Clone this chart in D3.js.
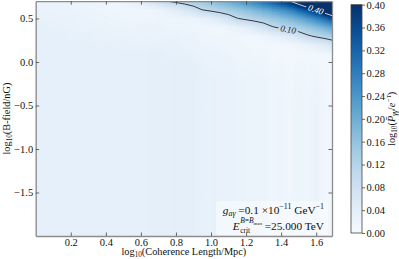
<!DOCTYPE html>
<html>
<head>
<meta charset="utf-8">
<script src="https://cdn.jsdelivr.net/npm/d3@7"></script>
<style>
  body { margin: 0; background: #fff; }
  svg { display: block; font-family: "Liberation Serif", "Times New Roman", serif; }
</style>
</head>
<body>
<div id="chart"></div>
<script>
// grid columns: log10(coherence length / Mpc)
var xs = [0.00, 0.05, 0.10, 0.15, 0.20, 0.25, 0.30, 0.35, 0.40, 0.45, 0.50, 0.55,
          0.60, 0.65, 0.70, 0.75, 0.80, 0.85, 0.90, 0.95, 1.00, 1.05, 1.10, 1.15,
          1.20, 1.25, 1.30, 1.35, 1.40, 1.45, 1.50, 1.55, 1.60, 1.65, 1.70];
// grid rows: log10(B-field / nG), top to bottom
var ys = [0.7, 0.6, 0.5, 0.4, 0.3, 0.2, 0.1, 0.0, -0.2, -0.5, -1.0, -1.5, -2.0];
// log10(P_gg / e^-tau), one row per ys value
var pgg = [
  [0.026,0.026,0.025,0.024,0.023, 0.022,0.021,0.020,0.019,0.018, 0.022,0.030,0.041,0.056,0.076, 0.101,0.111,0.123,0.136,0.149, 0.165,0.182,0.201,0.221,0.244, 0.269,0.297,0.327,0.361,0.398, 0.458,0.532,0.618,0.730,0.870],
  [0.028,0.027,0.027,0.026,0.025, 0.024,0.023,0.021,0.020,0.019, 0.018,0.018,0.019,0.019,0.022, 0.030,0.040,0.055,0.074,0.100, 0.111,0.122,0.134,0.148,0.164, 0.180,0.199,0.219,0.242,0.267, 0.304,0.348,0.400,0.467,0.550],
  [0.029,0.029,0.028,0.028,0.028, 0.026,0.025,0.024,0.023,0.022, 0.021,0.019,0.019,0.019,0.020, 0.020,0.021,0.020,0.021,0.029, 0.039,0.053,0.072,0.098,0.110, 0.121,0.133,0.147,0.162,0.179, 0.201,0.228,0.259,0.298,0.346],
  [0.033,0.033,0.032,0.030,0.029, 0.028,0.028,0.027,0.027,0.025, 0.024,0.023,0.024,0.025,0.026, 0.021,0.021,0.020,0.019,0.018, 0.017,0.016,0.021,0.028,0.038, 0.052,0.070,0.096,0.109,0.120, 0.133,0.149,0.168,0.190,0.218],
  [0.033,0.033,0.033,0.033,0.032, 0.032,0.031,0.029,0.028,0.028, 0.028,0.028,0.029,0.026,0.026, 0.025,0.027,0.025,0.025,0.018, 0.017,0.016,0.017,0.014,0.014, 0.015,0.020,0.027,0.037,0.051, 0.069,0.093,0.109,0.122,0.137],
  [0.033,0.033,0.033,0.033,0.033, 0.033,0.033,0.032,0.033,0.032, 0.031,0.029,0.029,0.030,0.031, 0.031,0.032,0.026,0.025,0.022, 0.022,0.020,0.021,0.018,0.014, 0.013,0.013,0.011,0.012,0.015, 0.020,0.027,0.036,0.049,0.067],
  [0.033,0.033,0.033,0.033,0.033, 0.033,0.033,0.033,0.033,0.033, 0.033,0.033,0.034,0.035,0.037, 0.031,0.032,0.031,0.030,0.027, 0.026,0.025,0.021,0.018,0.018, 0.016,0.017,0.013,0.013,0.011, 0.013,0.012,0.014,0.014,0.019],
  [0.033,0.033,0.033,0.033,0.033, 0.033,0.033,0.033,0.033,0.033, 0.033,0.033,0.034,0.035,0.037, 0.036,0.038,0.036,0.035,0.027, 0.026,0.025,0.026,0.022,0.021, 0.020,0.018,0.014,0.016,0.012, 0.016,0.014,0.015,0.011,0.012],
  [0.033,0.033,0.033,0.033,0.033, 0.033,0.033,0.033,0.033,0.033, 0.033,0.033,0.034,0.035,0.037, 0.036,0.038,0.036,0.035,0.032, 0.031,0.029,0.030,0.026,0.025, 0.023,0.024,0.018,0.019,0.014, 0.019,0.016,0.020,0.013,0.013],
  [0.033,0.033,0.033,0.033,0.033, 0.033,0.033,0.033,0.033,0.033, 0.033,0.033,0.034,0.035,0.037, 0.036,0.038,0.036,0.035,0.032, 0.031,0.029,0.030,0.026,0.025, 0.023,0.024,0.018,0.021,0.016, 0.022,0.019,0.023,0.015,0.016],
  [0.034,0.034,0.034,0.033,0.033, 0.033,0.033,0.033,0.033,0.033, 0.033,0.033,0.034,0.035,0.037, 0.036,0.038,0.036,0.035,0.032, 0.031,0.029,0.030,0.026,0.025, 0.023,0.024,0.018,0.021,0.016, 0.022,0.019,0.023,0.015,0.016],
  [0.034,0.034,0.034,0.034,0.033, 0.033,0.033,0.033,0.033,0.033, 0.033,0.033,0.034,0.035,0.037, 0.036,0.038,0.036,0.035,0.032, 0.031,0.029,0.030,0.026,0.025, 0.023,0.024,0.018,0.021,0.016, 0.022,0.019,0.023,0.015,0.016],
  [0.035,0.034,0.034,0.034,0.034, 0.033,0.033,0.033,0.033,0.033, 0.033,0.033,0.034,0.035,0.037, 0.036,0.038,0.036,0.035,0.032, 0.031,0.029,0.030,0.026,0.025, 0.023,0.024,0.018,0.021,0.016, 0.022,0.019,0.023,0.015,0.016]
];
var xTicks = [0.2, 0.4, 0.6, 0.8, 1.0, 1.2, 1.4, 1.6];
var yTicks = [-1.5, -1.0, -0.5, 0.0, 0.5];
var cbTicks = [0.00, 0.04, 0.08, 0.12, 0.16, 0.20, 0.24, 0.28, 0.32, 0.36, 0.40];
var lineLevels = [0.10, 0.40];

var W = 399, H = 259;
var plot = {left: 35.7, right: 332, top: 1.2, bottom: 236};
var serif = '"Liberation Serif", "Times New Roman", serif';

var x = d3.scaleLinear().domain([0, 1.69]).range([plot.left, plot.right]);
var y = d3.scaleLinear().domain([-2, 0.699]).range([plot.bottom, plot.top]);
var color = d3.scaleSequential(d3.interpolateBlues).domain([0, 0.4]).clamp(true);

var svg = d3.select('#chart').append('svg').attr('width', W).attr('height', H);
var defs = svg.append('defs');
defs.append('clipPath').attr('id', 'plotclip').append('rect')
    .attr('x', plot.left).attr('y', plot.top)
    .attr('width', plot.right - plot.left).attr('height', plot.bottom - plot.top);

// grid index -> data coordinate (cell values sit at index + 0.5)
var colPos = d3.scaleLinear().domain(xs.map(function (d, i) { return i + 0.5; })).range(xs);
var rowPos = d3.scaleLinear().domain(ys.map(function (d, i) { return i + 0.5; })).range(ys);
var path = d3.geoPath(d3.geoTransform({
    point: function (px, py) { this.stream.point(x(colPos(px)), y(rowPos(py))); }
}));

var values = [].concat.apply([], pgg);
var step = 0.0025;
var levels = d3.range(0, 0.4 + step / 2, step);
var bands = d3.contours().size([xs.length, ys.length]).thresholds(levels)(values);

var heat = svg.append('g').attr('clip-path', 'url(#plotclip)');
heat.selectAll('path.band').data(bands).enter().append('path')
    .attr('class', 'band')
    .attr('d', path)
    .attr('fill', function (d) { return color(Math.min(0.4, d.value + step / 2)); })
    .attr('stroke', function (d) { return color(Math.min(0.4, d.value + step / 2)); })
    .attr('stroke-width', 0.3);

// contour lines with gaps under their labels
var mask = defs.append('mask').attr('id', 'lblmask').attr('maskUnits', 'userSpaceOnUse')
    .attr('x', 0).attr('y', 0).attr('width', W).attr('height', H);
mask.append('rect').attr('width', W).attr('height', H).attr('fill', 'white');

var lineColor = {'0.1': '#262626', '0.4': '#e6edf5'};
var lineWrap = svg.append('g').attr('clip-path', 'url(#plotclip)');
var lineG = lineWrap.append('g').attr('mask', 'url(#lblmask)');
var lines = d3.contours().size([xs.length, ys.length]).thresholds(lineLevels)(values);
var lineNodes = {};
lineG.selectAll('path').data(lines).enter().append('path')
    .attr('d', path)
    .attr('fill', 'none')
    .attr('stroke', function (d) { return lineColor[String(d.value)]; })
    .attr('stroke-width', 0.9)
    .each(function (d) { lineNodes[String(d.value)] = this; });

var labelG = svg.append('g');
function labelContour(node, targetX, txt, fill) {
    var len = node.getTotalLength(), best = null;
    for (var s = 0; s < len; s += 0.5) {
        var p = node.getPointAtLength(s);
        if (p.x < plot.left + 4 || p.x > plot.right - 4 || p.y < plot.top + 2 || p.y > plot.bottom) continue;
        var dd = Math.abs(p.x - targetX);
        if (!best || dd < best.d) best = {d: dd, s: s, p: p};
    }
    var a = node.getPointAtLength(Math.max(0, best.s - 5)),
        b = node.getPointAtLength(Math.min(len, best.s + 5));
    var ang = Math.atan2(b.y - a.y, b.x - a.x) * 180 / Math.PI;
    if (ang > 90) ang -= 180;
    if (ang < -90) ang += 180;
    var tr = 'translate(' + best.p.x + ',' + best.p.y + ') rotate(' + ang + ')';
    var t = labelG.append('text').attr('transform', tr)
        .attr('text-anchor', 'middle').attr('dy', '0.33em')
        .style('font-size', '9px').style('font-style', 'italic')
        .attr('fill', fill).text(txt);
    var w = t.node().getComputedTextLength();
    mask.append('rect').attr('transform', tr)
        .attr('x', -w / 2 - 2).attr('y', -4).attr('width', w + 4).attr('height', 8)
        .attr('fill', 'black');
}
labelContour(lineNodes['0.1'], 288, '0.10', '#262626');
labelContour(lineNodes['0.4'], 316, '0.40', '#ffffff');

// annotation box
svg.append('rect').attr('x', 216).attr('y', 201).attr('width', 112).attr('height', 34)
    .attr('rx', 3).attr('fill', '#fff').attr('opacity', 0.45);

function rich(sel, parts, size) {
    var shift = 0;
    parts.forEach(function (p) {
        var s = p.sub ? size * 0.25 : p.sup ? -size * 0.38 : 0;
        var t = sel.append('tspan').attr('dy', (s - shift) + 'px').text(p.t);
        if (p.sub || p.sup) t.style('font-size', (size * 0.7) + 'px');
        if (p.it) t.style('font-style', 'italic');
        shift = s;
    });
}

var annSize = 11.3;
var ann1 = svg.append('text').attr('x', 324).attr('y', 213.5).attr('text-anchor', 'end')
    .style('font-size', annSize + 'px').attr('fill', '#111');
rich(ann1, [{t: 'g', it: true}, {t: 'aγ', sub: true, it: true}, {t: ' =0.1 ×10'},
            {t: '−11', sup: true}, {t: ' GeV'}, {t: '−1', sup: true}], annSize);

var ann2 = svg.append('text').attr('x', 324).attr('y', 229.5).attr('text-anchor', 'end')
    .style('font-size', annSize + 'px').attr('fill', '#111').text('=25.000 TeV');
var a2x = 324 - ann2.node().getComputedTextLength() - 2.5;
var supT = svg.append('text').attr('y', 223).style('font-size', '7.5px').attr('fill', '#111');
supT.append('tspan').style('font-style', 'italic').text('B');
supT.append('tspan').text('=');
supT.append('tspan').style('font-style', 'italic').text('B');
supT.append('tspan').attr('dy', '1.5px').style('font-size', '5px').text('max');
var subT = svg.append('text').attr('y', 232.5).style('font-size', '7.5px').attr('fill', '#111').text('crit');
var scriptW = Math.max(supT.node().getComputedTextLength(), subT.node().getComputedTextLength());
var eT = svg.append('text').attr('y', 229.5).style('font-size', annSize + 'px')
    .style('font-style', 'italic').attr('fill', '#111').text('E');
var eW = eT.node().getComputedTextLength();
var ex = a2x - scriptW - eW - 0.5;
eT.attr('x', ex);
supT.attr('x', ex + eW + 0.5);
subT.attr('x', ex + eW + 0.5);

// axes (ticks pointing inward on all four sides)
var fmt1 = d3.format('.1f');
function styleAxis(g) {
    g.style('font-family', serif).style('font-size', '10.5px');
    g.select('.domain').attr('stroke', '#8c8c8c').attr('stroke-width', 1.3);
    g.selectAll('.tick line').attr('stroke', '#444').attr('stroke-width', 0.8);
    g.selectAll('.tick text').attr('fill', '#111');
}
svg.append('g').attr('transform', 'translate(0,' + plot.bottom + ')')
    .call(d3.axisBottom(x).tickValues(xTicks).tickFormat(fmt1).tickSizeInner(-3.5).tickSizeOuter(0).tickPadding(2.5))
    .call(styleAxis);
svg.append('g').attr('transform', 'translate(0,' + plot.top + ')')
    .call(d3.axisTop(x).tickValues(xTicks).tickFormat(function () { return ''; }).tickSizeInner(-3.5).tickSizeOuter(0))
    .call(styleAxis);
svg.append('g').attr('transform', 'translate(' + plot.left + ',0)')
    .call(d3.axisLeft(y).tickValues(yTicks).tickFormat(fmt1).tickSizeInner(-3.5).tickSizeOuter(0).tickPadding(2.5))
    .call(styleAxis);
svg.append('g').attr('transform', 'translate(' + plot.right + ',0)')
    .call(d3.axisRight(y).tickValues(yTicks).tickFormat(function () { return ''; }).tickSizeInner(-3.5).tickSizeOuter(0))
    .call(styleAxis);

// axis labels
var labSize = 10.3;
var xl = svg.append('text').attr('x', (plot.left + plot.right) / 2).attr('y', 254.5)
    .attr('text-anchor', 'middle').style('font-size', labSize + 'px').attr('fill', '#111');
rich(xl, [{t: 'log'}, {t: '10', sub: true}, {t: '(Coherence Length/Mpc)'}], labSize);
var yl = svg.append('text').attr('transform', 'translate(9.5,' + (plot.top + plot.bottom) / 2 + ') rotate(-90)')
    .attr('text-anchor', 'middle').style('font-size', labSize + 'px').attr('fill', '#111');
rich(yl, [{t: 'log'}, {t: '10', sub: true}, {t: '(B-field/nG)'}], labSize);

// colorbar
var cbTop = 4.7, cbBot = 233, cbX = 351, cbW = 11;
var cbY = d3.scaleLinear().domain([0, 0.4]).range([cbBot, cbTop]);
var grad = defs.append('linearGradient').attr('id', 'cbgrad')
    .attr('x1', 0).attr('y1', 1).attr('x2', 0).attr('y2', 0);
d3.range(0, 1.0001, 0.05).forEach(function (t) {
    grad.append('stop').attr('offset', t).attr('stop-color', color(t * 0.4));
});
svg.append('rect').attr('x', cbX).attr('y', cbTop).attr('width', cbW).attr('height', cbBot - cbTop)
    .attr('fill', 'url(#cbgrad)').attr('stroke', '#444').attr('stroke-width', 0.8);
var gcb = svg.append('g').attr('transform', 'translate(' + (cbX + cbW) + ',0)')
    .call(d3.axisRight(cbY).tickValues(cbTicks).tickFormat(d3.format('.2f')).tickSize(3).tickPadding(1.5))
    .call(styleAxis);
gcb.select('.domain').remove();

var cl = svg.append('text').attr('transform', 'translate(394.5,' + (cbTop + cbBot) / 2 + ') rotate(-90)')
    .attr('text-anchor', 'middle').style('font-size', labSize + 'px').attr('fill', '#111');
rich(cl, [{t: 'log'}, {t: '10', sub: true}, {t: '('}, {t: 'P\u0304', it: true}, {t: 'γγ', sub: true, it: true},
          {t: '/'}, {t: 'e', it: true}, {t: '−τ', sup: true, it: true}, {t: ')'}], labSize);
</script>
</body>
</html>
